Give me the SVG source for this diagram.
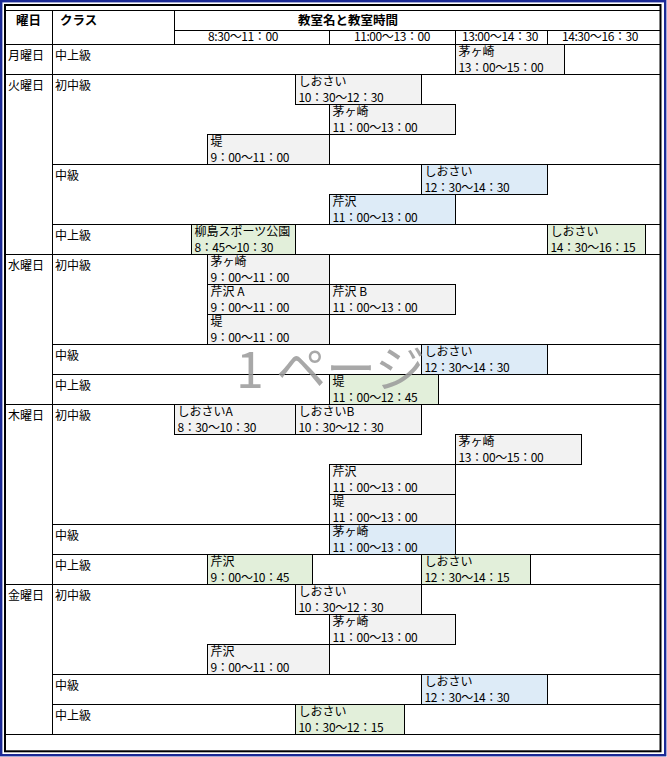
<svg xmlns="http://www.w3.org/2000/svg" width="667" height="757" viewBox="0 0 667 757">
<style>
text { font-family: "Noto Sans CJK JP", "Noto Sans", sans-serif; font-size: 12px; fill: #000; }
.h { font-weight: bold; font-size: 12.5px; }
.tm { letter-spacing: -0.4px; }
.ln { stroke: #000; stroke-width: 1; fill: none; }
.g rect { fill: #f2f2f2; stroke: #000; stroke-width: 1; }
.bl rect { fill: #ddebf7; stroke: #000; stroke-width: 1; }
.gr rect { fill: #e2efda; stroke: #000; stroke-width: 1; }
.wm { font-size: 50px; fill: #9a9a9a; }
</style>
<rect x="0" y="0" width="667" height="757" fill="#fff"/>
<rect x="1.2" y="1.2" width="664" height="754" fill="none" stroke="#1c2a96" stroke-width="2.4"/>
<rect x="5" y="5" width="655.5" height="746.3" fill="none" stroke="#000" stroke-width="2"/>

<g id="grid" class="ln">
  <line x1="5" y1="10.5" x2="660" y2="10.5"/>
  <line x1="174.5" y1="30.5" x2="660" y2="30.5"/>
  <line x1="5" y1="44.5" x2="660" y2="44.5"/>
  <line x1="52.5" y1="10.5" x2="52.5" y2="734.5"/>
  <line x1="174.5" y1="10.5" x2="174.5" y2="44.5"/>
  <line x1="329.5" y1="30.5" x2="329.5" y2="44.5"/>
  <line x1="455.5" y1="30.5" x2="455.5" y2="44.5"/>
  <line x1="547.5" y1="30.5" x2="547.5" y2="44.5"/>
  <line x1="5" y1="74.5" x2="660" y2="74.5"/>
  <line x1="52.5" y1="164.5" x2="660" y2="164.5"/>
  <line x1="52.5" y1="224.5" x2="660" y2="224.5"/>
  <line x1="5" y1="254.5" x2="660" y2="254.5"/>
  <line x1="52.5" y1="344.5" x2="660" y2="344.5"/>
  <line x1="52.5" y1="374.5" x2="660" y2="374.5"/>
  <line x1="5" y1="404.5" x2="660" y2="404.5"/>
  <line x1="52.5" y1="524.5" x2="660" y2="524.5"/>
  <line x1="52.5" y1="554.5" x2="660" y2="554.5"/>
  <line x1="5" y1="584.5" x2="660" y2="584.5"/>
  <line x1="52.5" y1="674.5" x2="660" y2="674.5"/>
  <line x1="52.5" y1="704.5" x2="660" y2="704.5"/>
  <line x1="5" y1="734.5" x2="660" y2="734.5"/>
</g>

<g id="header">
  <text class="h" x="16" y="25">曜日</text>
  <text class="h" x="60" y="25">クラス</text>
  <text class="h" x="348" y="25" text-anchor="middle">教室名と教室時間</text>
  <text class="tm" x="243" y="40.5" text-anchor="middle">8:30～11：00</text>
  <text class="tm" x="392" y="40.5" text-anchor="middle">11:00～13：00</text>
  <text class="tm" x="500" y="40.5" text-anchor="middle">13:00～14：30</text>
  <text class="tm" x="600" y="40.5" text-anchor="middle">14:30～16：30</text>
</g>

<g id="labels">
  <text x="8" y="60">月曜日</text>
  <text x="8" y="90">火曜日</text>
  <text x="8" y="270">水曜日</text>
  <text x="8" y="420">木曜日</text>
  <text x="8" y="600">金曜日</text>
  <text x="55" y="60">中上級</text>
  <text x="55" y="90">初中級</text>
  <text x="55" y="180">中級</text>
  <text x="55" y="240">中上級</text>
  <text x="55" y="270">初中級</text>
  <text x="55" y="360">中級</text>
  <text x="55" y="390">中上級</text>
  <text x="55" y="420">初中級</text>
  <text x="55" y="540">中級</text>
  <text x="55" y="570">中上級</text>
  <text x="55" y="600">初中級</text>
  <text x="55" y="690">中級</text>
  <text x="55" y="720">中上級</text>
</g>

<!-- 月曜日 -->
<g id="mon-1" class="g"><rect x="455.5" y="44.5" width="109" height="30"/><text x="458.5" y="56">茅ヶ崎</text><text class="tm" x="458.5" y="71.5">13：00～15：00</text></g>
<!-- 火曜日 -->
<g id="tue-1" class="g"><rect x="295.5" y="74.5" width="126" height="30"/><text x="298.5" y="86">しおさい</text><text class="tm" x="298.5" y="101.5">10：30～12：30</text></g>
<g id="tue-2" class="g"><rect x="329.5" y="104.5" width="126" height="30"/><text x="332.5" y="116">茅ヶ崎</text><text class="tm" x="332.5" y="131.5">11：00～13：00</text></g>
<g id="tue-3" class="g"><rect x="207.5" y="134.5" width="122" height="30"/><text x="210.5" y="146">堤</text><text class="tm" x="210.5" y="161.5">9：00～11：00</text></g>
<g id="tue-4" class="bl"><rect x="421.5" y="164.5" width="126" height="30"/><text x="424.5" y="176">しおさい</text><text class="tm" x="424.5" y="191.5">12：30～14：30</text></g>
<g id="tue-5" class="bl"><rect x="329.5" y="194.5" width="126" height="30"/><text x="332.5" y="206">芹沢</text><text class="tm" x="332.5" y="221.5">11：00～13：00</text></g>
<g id="tue-6" class="gr"><rect x="191.5" y="224.5" width="104" height="30"/><text x="194.5" y="236">柳島スポーツ公園</text><text class="tm" x="194.5" y="251.5">8：45～10：30</text></g>
<g id="tue-7" class="gr"><rect x="547.5" y="224.5" width="98" height="30"/><text x="550.5" y="236">しおさい</text><text class="tm" x="550.5" y="251.5">14：30～16：15</text></g>
<!-- 水曜日 -->
<g id="wed-1" class="g"><rect x="207.5" y="254.5" width="122" height="30"/><text x="210.5" y="266">茅ヶ崎</text><text class="tm" x="210.5" y="281.5">9：00～11：00</text></g>
<g id="wed-2" class="g"><rect x="207.5" y="284.5" width="122" height="30"/><text x="210.5" y="296">芹沢 A</text><text class="tm" x="210.5" y="311.5">9：00～11：00</text></g>
<g id="wed-3" class="g"><rect x="329.5" y="284.5" width="126" height="30"/><text x="332.5" y="296">芹沢 B</text><text class="tm" x="332.5" y="311.5">11：00～13：00</text></g>
<g id="wed-4" class="g"><rect x="207.5" y="314.5" width="122" height="30"/><text x="210.5" y="326">堤</text><text class="tm" x="210.5" y="341.5">9：00～11：00</text></g>
<g id="wed-5" class="bl"><rect x="421.5" y="344.5" width="126" height="30"/><text x="424.5" y="356">しおさい</text><text class="tm" x="424.5" y="371.5">12：30～14：30</text></g>
<g id="wed-6" class="gr"><rect x="329.5" y="374.5" width="109" height="30"/><text x="332.5" y="386">堤</text><text class="tm" x="332.5" y="401.5">11：00～12：45</text></g>
<!-- 木曜日 -->
<g id="thu-1" class="g"><rect x="174.5" y="404.5" width="121" height="30"/><text x="177.5" y="416">しおさいA</text><text class="tm" x="177.5" y="431.5">8：30～10：30</text></g>
<g id="thu-2" class="g"><rect x="295.5" y="404.5" width="126" height="30"/><text x="298.5" y="416">しおさいB</text><text class="tm" x="298.5" y="431.5">10：30～12：30</text></g>
<g id="thu-3" class="g"><rect x="455.5" y="434.5" width="126" height="30"/><text x="458.5" y="446">茅ヶ崎</text><text class="tm" x="458.5" y="461.5">13：00～15：00</text></g>
<g id="thu-4" class="g"><rect x="329.5" y="464.5" width="126" height="30"/><text x="332.5" y="476">芹沢</text><text class="tm" x="332.5" y="491.5">11：00～13：00</text></g>
<g id="thu-5" class="g"><rect x="329.5" y="494.5" width="126" height="30"/><text x="332.5" y="506">堤</text><text class="tm" x="332.5" y="521.5">11：00～13：00</text></g>
<g id="thu-6" class="bl"><rect x="329.5" y="524.5" width="126" height="30"/><text x="332.5" y="536">茅ヶ崎</text><text class="tm" x="332.5" y="551.5">11：00～13：00</text></g>
<g id="thu-7" class="gr"><rect x="207.5" y="554.5" width="105" height="30"/><text x="210.5" y="566">芹沢</text><text class="tm" x="210.5" y="581.5">9：00～10：45</text></g>
<g id="thu-8" class="gr"><rect x="421.5" y="554.5" width="109" height="30"/><text x="424.5" y="566">しおさい</text><text class="tm" x="424.5" y="581.5">12：30～14：15</text></g>
<!-- 金曜日 -->
<g id="fri-1" class="g"><rect x="295.5" y="584.5" width="126" height="30"/><text x="298.5" y="596">しおさい</text><text class="tm" x="298.5" y="611.5">10：30～12：30</text></g>
<g id="fri-2" class="g"><rect x="329.5" y="614.5" width="126" height="30"/><text x="332.5" y="626">茅ヶ崎</text><text class="tm" x="332.5" y="641.5">11：00～13：00</text></g>
<g id="fri-3" class="g"><rect x="207.5" y="644.5" width="122" height="30"/><text x="210.5" y="656">芹沢</text><text class="tm" x="210.5" y="671.5">9：00～11：00</text></g>
<g id="fri-4" class="bl"><rect x="421.5" y="674.5" width="126" height="30"/><text x="424.5" y="686">しおさい</text><text class="tm" x="424.5" y="701.5">12：30～14：30</text></g>
<g id="fri-5" class="gr"><rect x="295.5" y="704.5" width="109" height="30"/><text x="298.5" y="716">しおさい</text><text class="tm" x="298.5" y="731.5">10：30～12：15</text></g>

<g id="watermark" opacity="0.85">
  <text class="wm" x="236" y="388" font-size="54">1</text>
  <text class="wm" x="276" y="387">ページ</text>
</g>
</svg>
